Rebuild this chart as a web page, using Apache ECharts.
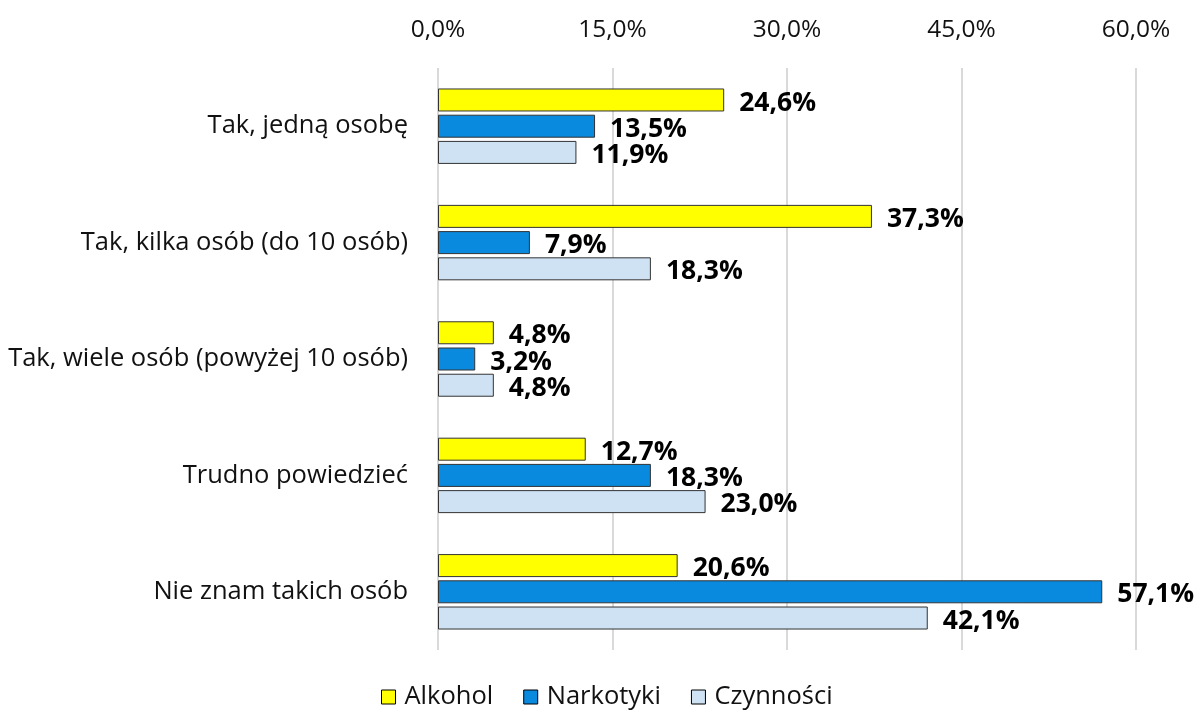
<!DOCTYPE html>
<html>
<head>
<meta charset="utf-8">
<script src="https://cdn.jsdelivr.net/npm/echarts@6/dist/echarts.min.js"></script>
<style>
html, body { margin: 0; padding: 0; background: #fff; }
#chart { width: 1194px; height: 711px; }
</style>
</head>
<body>
<div id="chart"></div>
<script>
var categories = ['Tak, jedną osobę', 'Tak, kilka osób (do 10 osób)', 'Tak, wiele osób (powyżej 10 osób)', 'Trudno powiedzieć', 'Nie znam takich osób'];
var alkohol = [24.6, 37.3, 4.8, 12.7, 20.6];
var narkotyki = [13.5, 7.9, 3.2, 18.3, 57.1];
var czynnosci = [11.9, 18.3, 4.8, 23.0, 42.1];

var font = '"Open Sans", "Noto Sans", sans-serif';
function fmt(v) { return v.toFixed(1).replace('.', ',') + '%'; }

function series(name, data, color) {
    return {
        name: name,
        type: 'bar',
        data: data,
        barWidth: 23,
        barGap: '14%',
        itemStyle: { color: color, borderColor: '#333', borderWidth: 1 },
        label: {
            show: true,
            position: 'right',
            distance: 15,
            offset: [0, 3],
            fontFamily: font,
            fontSize: 26.5,
            fontWeight: 'bold',
            color: '#000',
            formatter: function (p) { return fmt(p.value); }
        }
    };
}

var chart = echarts.init(document.getElementById('chart'));
chart.setOption({
    animation: false,
    textStyle: { fontFamily: font },
    grid: { left: 438, right: 58, top: 68, bottom: 61 },
    legend: {
        top: 679,
        left: 376,
        itemWidth: 14,
        itemHeight: 14,
        itemGap: 30,
        icon: 'rect',
        itemStyle: { borderColor: '#000', borderWidth: 1 },
        textStyle: { fontFamily: font, fontSize: 25.5, color: '#111', padding: [0, 0, 0, 4] },
        data: ['Alkohol', 'Narkotyki', 'Czynności']
    },
    xAxis: {
        type: 'value',
        position: 'top',
        min: 0,
        max: 60,
        interval: 15,
        axisLine: { show: false },
        axisTick: { show: false },
        splitLine: { lineStyle: { color: '#d9d9d9', width: 2 } },
        axisLabel: {
            fontFamily: font,
            fontSize: 24.5,
            color: '#111',
            margin: 25,
            formatter: function (v) { return fmt(v); }
        }
    },
    yAxis: {
        type: 'category',
        inverse: true,
        data: categories,
        axisLine: { show: false },
        axisTick: { show: false },
        axisLabel: { fontFamily: font, fontSize: 25.5, color: '#111', margin: 30 }
    },
    series: [
        series('Alkohol', alkohol, '#ffff00'),
        series('Narkotyki', narkotyki, '#0a8ade'),
        series('Czynności', czynnosci, '#cfe2f3')
    ]
});
</script>
</body>
</html>
